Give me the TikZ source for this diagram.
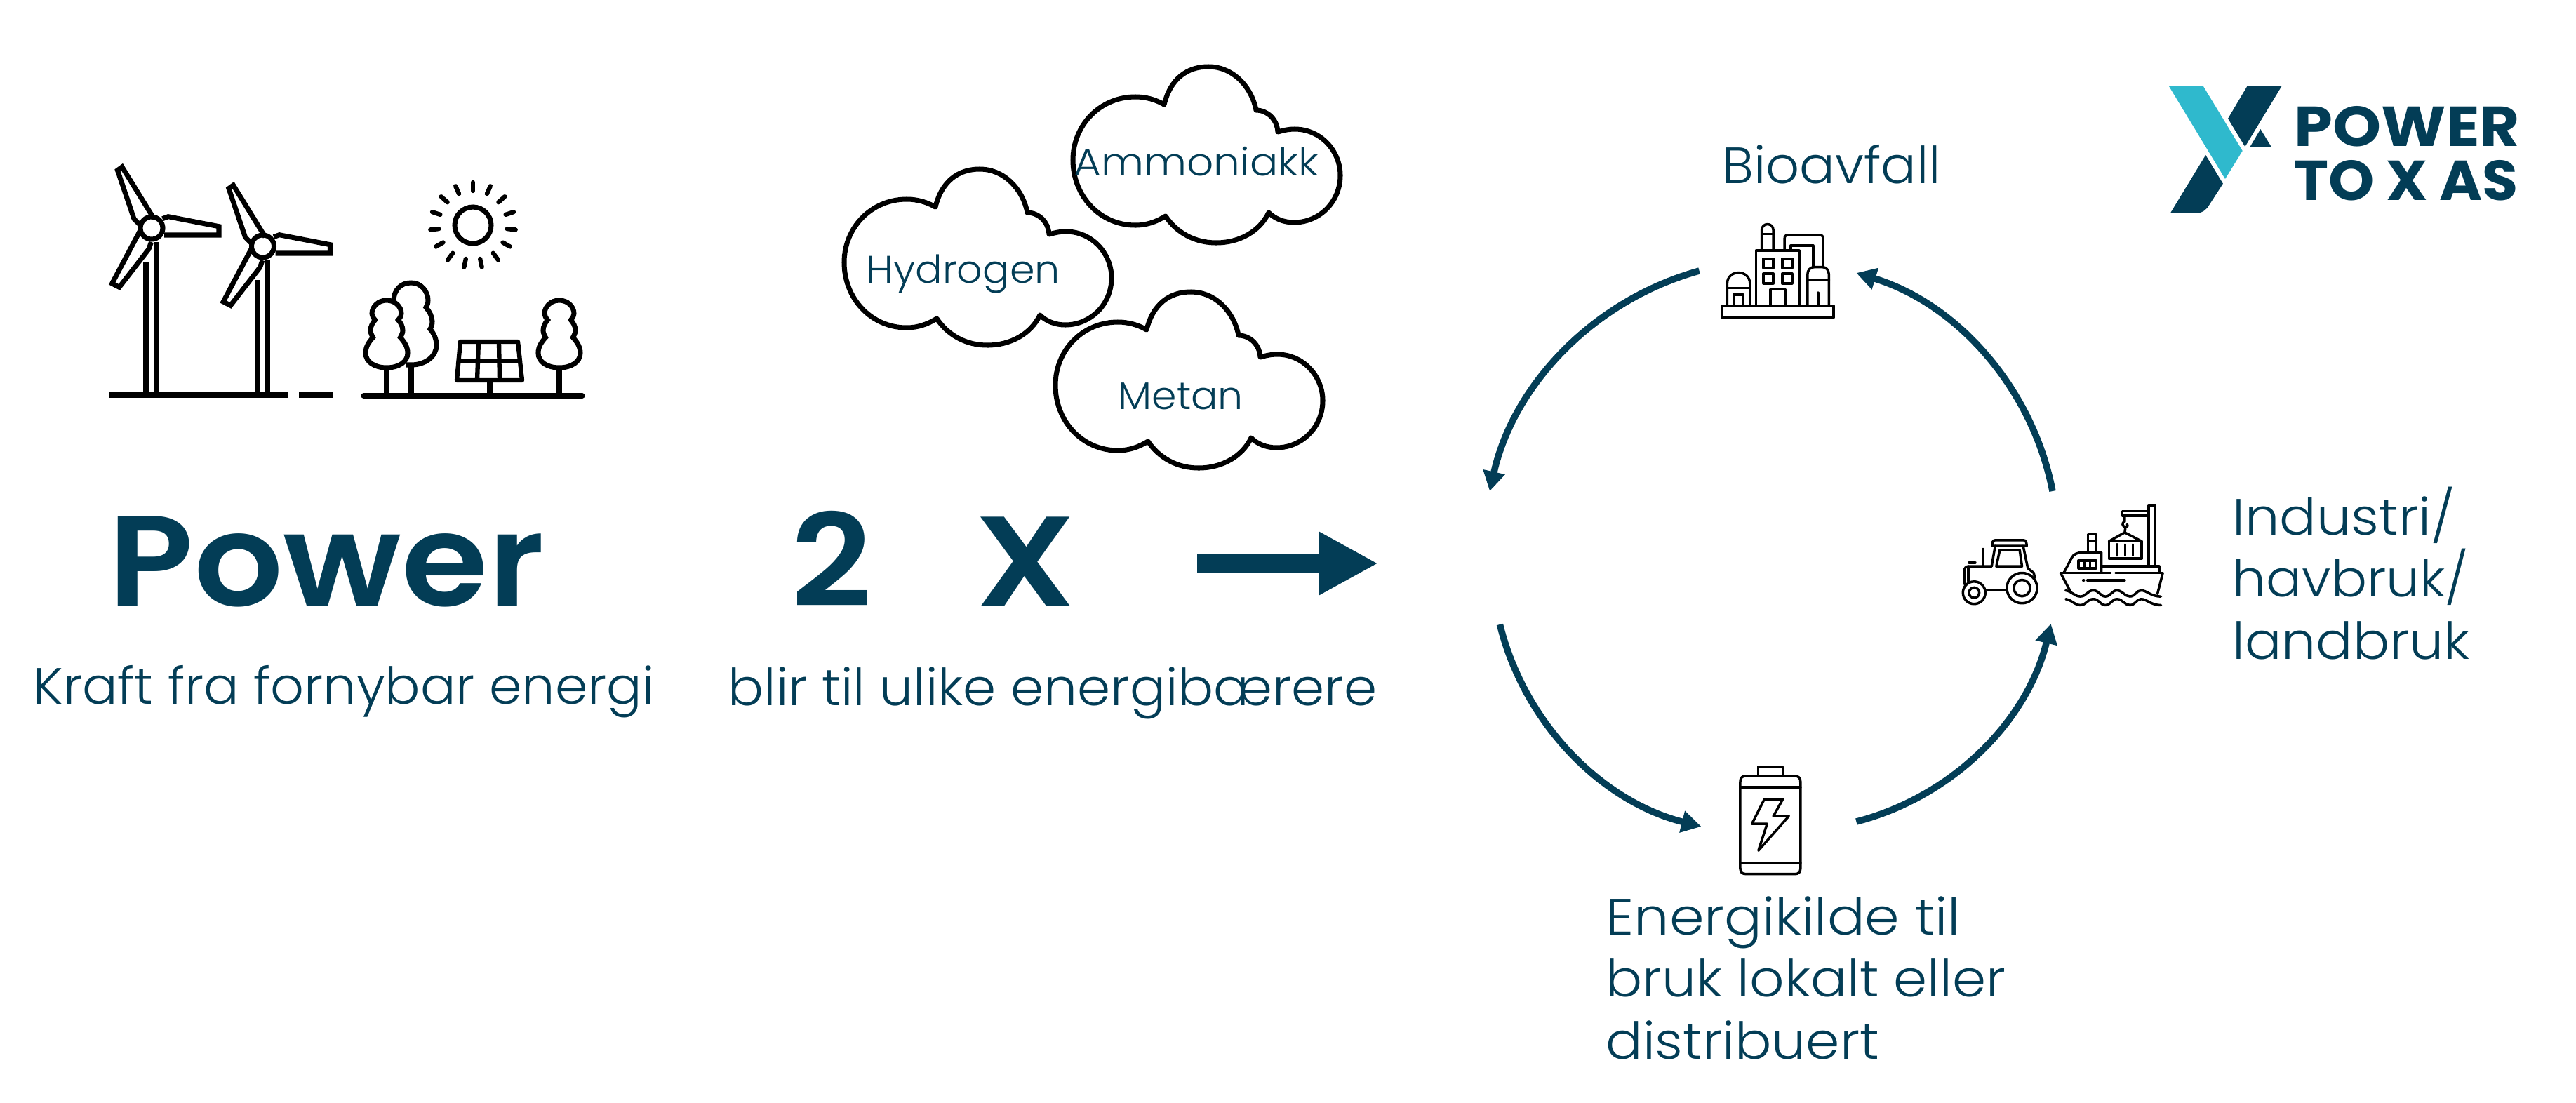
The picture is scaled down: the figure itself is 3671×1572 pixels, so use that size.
\documentclass[tikz,border=0pt]{standalone}
\usepackage{fontspec}
\usepackage{graphicx}
\usetikzlibrary{arrows.meta}
\setmainfont{Poppins}
\newfontfamily\lightf{Poppins Light}
\newfontfamily\boldf{Poppins Bold}
\newfontfamily\semif{Poppins SemiBold}
\definecolor{navy}{HTML}{033D56}
\definecolor{lagoon}{HTML}{2FB9CD}
\newsavebox{\fitbox}
\newcommand{\fitpx}[2]{\sbox{\fitbox}{#2}\pgfmathsetmacro{\fitscale}{#1*0.28453/\wd\fitbox}\scalebox{\fitscale}[1]{\usebox{\fitbox}}}
\newcommand{\treepath}{(0,428) .. controls (12,428) and (21,437) .. (21,447) .. controls (21,450) and (19,453) .. (16.5,456) .. controls (20,460) and (23,465) .. (23,471) .. controls (23,475) and (21,478) .. (19.5,481) .. controls (25,487) and (30,494) .. (30,503) .. controls (30,516) and (17,524) .. (0,524) .. controls (-17,524) and (-30,516) .. (-30,503) .. controls (-30,494) and (-25,487) .. (-19.5,481) .. controls (-21,478) and (-23,475) .. (-23,471) .. controls (-23,465) and (-20,460) .. (-16.5,456) .. controls (-19,453) and (-21,450) .. (-21,447) .. controls (-21,437) and (-12,428) .. (0,428) -- cycle}
\tikzset{
  icon/.style={draw=black,line width=2pt,miter limit=3},
  fineicon/.style={draw=black,line width=1pt,line join=round,line cap=round},
  cycleline/.style={draw=navy,line width=2.7pt,-{Triangle[length=8pt,width=8.6pt]},bend right=31,looseness=0.92},
  label/.style={inner sep=0pt,text=navy,anchor=base west},
  cloudtext/.style={label,font=\lightf\fontsize{15.6}{18}\selectfont},
  bodytext/.style={label,align=left,font=\lightf\fontsize{20.7}{25.04}\selectfont},
  heading/.style={label,font=\semif\fontsize{52}{60}\selectfont},
  logotext/.style={label,font=\boldf\fontsize{22.8}{26}\selectfont},
  cloudline/.style={draw=black,line width=2pt,fill=white,line join=round},
}
\begin{document}
\begin{tikzpicture}[x=0.01cm,y=-0.01cm]
\useasboundingbox (0,0) rectangle (3671,1572);
% wind turbines
\foreach \hx/\hy/\gr in {216/325/238,374.5/351/212}{
\begin{scope}[shift={(\hx,\hy)}]
  \draw[icon] (-8,48) -- (-8,\gr);
  \draw[icon] (7,20) -- (7,\gr);
  \draw[icon] (-15,-3) -- (-25,-13) -- (-48.5,-82.3) -- (-42,-87) -- (3.4,-13.3);
  \draw[icon] (15.5,-13.3) -- (23.7,-16.3) -- (96,-2.3) -- (96,10) -- (18,10);
  \draw[icon] (-16,3) -- (-56.3,79) -- (-46,84.3) -- (-4,30) -- (-0.5,20);
  \draw[icon] (0,0) circle (16);
\end{scope}}
\draw[icon] (155,563) -- (411,563);
\draw[icon] (426,563) -- (475,563);
% sun
\draw[icon] (674,321) circle (26);
\foreach \i in {0,...,14}{
  \pgfmathsetmacro{\ang}{-90+24*\i}
  \draw[black,line width=1.8pt,line cap=round] ({674+49*cos(\ang)},{321+49*sin(\ang)}) -- ({674+61*cos(\ang)},{321+61*sin(\ang)});
}
% trees and solar panel
\draw[icon,line cap=round] (518,564) -- (830,564);
\draw[icon] (561,430) .. controls (561,412) and (572,403) .. (586,403) .. controls (600,403) and (610,415) .. (610,428) .. controls (610,432) and (609,435) .. (607,438) .. controls (612,444) and (616,451) .. (616,458) .. controls (616,463) and (615,466) .. (613,469) .. controls (619,476) and (622,484) .. (622,492) .. controls (622,508) and (606,520) .. (586,520) -- (578,520);
\draw[icon] (586,520) -- (586,564);
\draw[icon] (551,524) -- (551,564);
\draw[icon] (797,524) -- (797,564);
\draw[icon,fill=white,shift={(551,0)}] \treepath;
\draw[icon,shift={(797,0)}] \treepath;
\draw[icon,line join=round,line width=1.8pt] (656,487) -- (738,487) -- (744,542) -- (651,542) -- cycle;
\draw[icon,line width=1.8pt] (653.5,514) -- (741,514);
\draw[icon,line width=1.8pt] (682,487) -- (680,542);
\draw[icon,line width=1.8pt] (711,487) -- (712,542);
\draw[icon] (698,542) -- (698,564);
% clouds
\foreach \cx/\cy in {-326/146,-25/321,0/0}{
\draw[cloudline,shift={(\cx,\cy)}] (1659,149) .. controls (1668,112) and (1692,95) .. (1722,95)
 .. controls (1758,95) and (1784,125) .. (1790,157)
 .. controls (1806,157) and (1820,170) .. (1821,188)
 .. controls (1828,186) and (1836,184) .. (1845,184)
 .. controls (1882,184) and (1910,215) .. (1910,250)
 .. controls (1910,288) and (1880,317) .. (1844,317)
 .. controls (1830,317) and (1817,312) .. (1808,303)
 .. controls (1795,330) and (1766,346) .. (1733,346)
 .. controls (1703,346) and (1677,332) .. (1661,308)
 .. controls (1648,316) and (1634,321) .. (1618,321)
 .. controls (1568,321) and (1529,280) .. (1529,228)
 .. controls (1529,178) and (1568,138) .. (1618,138)
 .. controls (1633,138) and (1647,142) .. (1659,149) -- cycle;}
\node[cloudtext] (ammoniakk) at (1530,250) {\fitpx{348}{Ammoniakk}};
\node[cloudtext] (hydrogen) at (1234,403) {\fitpx{276}{Hydrogen}};
\node[cloudtext] (metan) at (1593,583) {\fitpx{178}{Metan}};
% headings
\node[heading] (power) at (154,863) {\fitpx{621}{Power}};
\node[heading] (two) at (1127,864) {\fitpx{115}{2}};
\node[heading] (ex) at (1389,864) {\fitpx{144}{X}};
\node[bodytext] (kraft) at (47,1003) {\fitpx{884}{Kraft fra fornybar energi}};
\node[bodytext] (blir) at (1037,1005) {\fitpx{924}{blir til ulike energibærere}};
\coordinate (bigstart) at (1706,803);
\coordinate (bigend) at (1964,803);
\draw[draw=navy,line width=7.97pt,-{Triangle[length=23.9pt,width=23.9pt]}] (bigstart) -- (bigend);
% cycle
\coordinate (a1s) at (2421.6,386);
\coordinate (a1e) at (2123,700);
\coordinate (a2s) at (2137.4,890);
\coordinate (a2e) at (2424.4,1178);
\coordinate (a3s) at (2645.4,1171);
\coordinate (a3e) at (2922.7,889);
\coordinate (a4s) at (2925,700);
\coordinate (a4e) at (2645.4,389);
\draw[cycleline] (a1s) to (a1e);
\draw[cycleline] (a2s) to (a2e);
\draw[cycleline] (a3s) to (a3e);
\draw[cycleline] (a4s) to (a4e);
\node[bodytext] (bio) at (2454,261) {\fitpx{311}{Bioavfall}};
\node[bodytext] (industri) at (3181,939) {\fitpx{317}{Industri/}\\\fitpx{336}{havbruk/}\\\fitpx{338}{landbruk}};
\node[bodytext] (energi) at (2288,1509) {\fitpx{505}{Energikilde til}\\\fitpx{569}{bruk lokalt eller}\\\fitpx{389}{distribuert}};
% factory icon
\begin{scope}[shift={(2420,290)},x=0.003333cm,y=-0.003333cm]
  \draw[fineicon] (103,438) rectangle (580,490);
  \draw[fineicon] (248,436) -- (248,202) -- (432,202) -- (432,436);
  \draw[fineicon] (272,202) -- (272,115) .. controls (272,80) and (322,80) .. (322,115) -- (322,202);
  \draw[fineicon] (272,130) -- (322,130);
  \draw[fineicon] (280,236) rectangle (322,276);
  \draw[fineicon] (360,236) rectangle (402,276);
  \draw[fineicon] (280,300) rectangle (322,342);
  \draw[fineicon] (360,300) rectangle (402,342);
  \draw[fineicon] (310,436) -- (310,368) -- (372,368) -- (372,436);
  \draw[fineicon] (124,436) -- (124,345) .. controls (124,280) and (222,280) .. (222,345) -- (222,436);
  \draw[fineicon] (124,362) -- (222,362);
  \draw[fineicon] (152,436) -- (152,390) -- (192,390) -- (192,436);
  \draw[fineicon] (468,436) -- (468,305) .. controls (468,285) and (480,272) .. (500,272) -- (530,272) .. controls (548,272) and (560,285) .. (560,305) -- (560,436);
  \draw[fineicon] (468,328) -- (560,328);
  \draw[fineicon] (514,382) -- (514,436);
  \draw[fineicon] (370,200) -- (370,150) .. controls (370,140) and (375,135) .. (385,135) -- (520,135) .. controls (530,135) and (535,140) .. (535,150) -- (535,272);
  \draw[fineicon] (396,200) -- (396,180) -- (492,180) -- (492,272);
\end{scope}
% tractor icon
\begin{scope}[shift={(2770,690)},x=0.003333cm,y=-0.003333cm]
  \draw[fineicon] (335,445) circle (65);
  \draw[fineicon] (335,445) circle (35);
  \draw[fineicon] (130,465) circle (48);
  \draw[fineicon] (130,465) circle (22);
  \draw[fineicon] (183,452) -- (265,452);
  \draw[fineicon] (220,240) -- (342,240) .. controls (352,240) and (355,250) .. (355,265) -- (207,265) .. controls (207,250) and (210,240) .. (220,240) -- cycle;
  \draw[fineicon] (220,265) -- (205,352);
  \draw[fineicon] (340,265) -- (360,360) -- (385,380) -- (390,400);
  \draw[fineicon] (240,282) -- (325,282) -- (335,352) -- (225,352) -- cycle;
  \draw[fineicon] (90,430) -- (88,372) .. controls (88,360) and (95,352) .. (105,352) -- (205,352);
  \draw[fineicon] (105,352) -- (105,415);
  \draw[fineicon] (168,278) -- (168,350);
  \draw[fineicon] (108,336) -- (135,336);
% boat icon
  \draw[fineicon] (500,380) -- (715,380);
  \draw[fineicon] (735,380) -- (938,380);
  \draw[fineicon] (500,380) -- (540,455);
  \draw[fineicon] (938,380) -- (915,470);
  \draw[fineicon] (597,412) -- (600,412);
  \draw[fineicon] (615,412) -- (775,412);
  \foreach \wy in {0,37}{
    \draw[fineicon,shift={(0,\wy)}] (522,455) .. controls (550,460) and (560,481) .. (585,481) .. controls (610,481) and (615,455) .. (640,455) .. controls (665,455) and (670,481) .. (692,481) .. controls (715,481) and (720,455) .. (742,455) .. controls (765,455) and (775,481) .. (797,481) .. controls (820,481) and (825,455) .. (845,455) .. controls (870,455) and (885,481) .. (930,481);
  }
  \draw[fineicon] (515,378) -- (548,315) .. controls (555,300) and (575,292) .. (595,292) -- (675,292) -- (675,378);
  \draw[fineicon] (577,327) rectangle (652,360);
  \draw[fineicon] (602,327) -- (602,360);
  \draw[fineicon] (627,327) -- (627,360);
  \draw[fineicon] (618,292) -- (618,215) -- (653,215) -- (653,292);
  \draw[fineicon] (618,242) -- (653,242);
  \draw[fineicon] (677,352) -- (922,352) -- (922,378);
  \draw[fineicon] (707,245) -- (775,207) -- (848,245);
  \draw[fineicon] (707,245) rectangle (848,318);
  \draw[fineicon] (742,258) -- (742,305);
  \draw[fineicon] (776,258) -- (776,305);
  \draw[fineicon] (810,258) -- (810,305);
  \draw[fineicon] (878,350) -- (878,92) -- (905,92) -- (905,350);
  \draw[fineicon] (878,115) -- (765,115) -- (765,135) -- (878,135);
  \draw[fineicon] (775,135) -- (775,160) .. controls (760,165) and (765,182) .. (778,184) .. controls (788,182) and (790,175) .. (785,172);
  \draw[fineicon] (778,184) -- (775,207);
\end{scope}
% battery icon
\begin{scope}[shift={(2450,1060)},x=0.003333cm,y=-0.003333cm]
  \draw[fineicon] (115,138) -- (323,138) .. controls (340,138) and (348,146) .. (348,163) -- (348,533) .. controls (348,550) and (340,558) .. (323,558) -- (115,558) .. controls (98,558) and (90,550) .. (90,533) -- (90,163) .. controls (90,146) and (98,138) .. (115,138) -- cycle;
  \draw[fineicon] (167,138) -- (167,98) -- (272,98) -- (272,138);
  \draw[fineicon] (90,187) -- (348,187);
  \draw[fineicon] (90,510) -- (348,510);
  \draw[fineicon] (193,238) -- (272,238) -- (232,310) -- (298,310) -- (168,457) -- (205,343) -- (140,343) -- cycle;
\end{scope}
% logo
\fill[lagoon] (3090.4,122) -- (3139.3,122) -- (3195.7,215) -- (3171,255) -- cycle;
\fill[navy] (3202.9,122) -- (3252,122) -- (3199.3,209) -- (3175,169) -- cycle;
\fill[navy] (3221.4,184) -- (3236.8,209.3) -- (3206.4,209.3) -- cycle;
\fill[navy] (3143.2,221) -- (3167.9,261.7) -- (3147.5,293.3) .. controls (3143,300) and (3138,303.7) .. (3130,303.7) -- (3092.9,303.7) -- cycle;
\node[logotext] (logoa) at (3269,208.7) {\fitpx{321}{POWER}};
\node[logotext] (logob) at (3269,285) {\fitpx{319}{{\spaceskip=0.2em TO X AS}}};
\end{tikzpicture}
\end{document}
